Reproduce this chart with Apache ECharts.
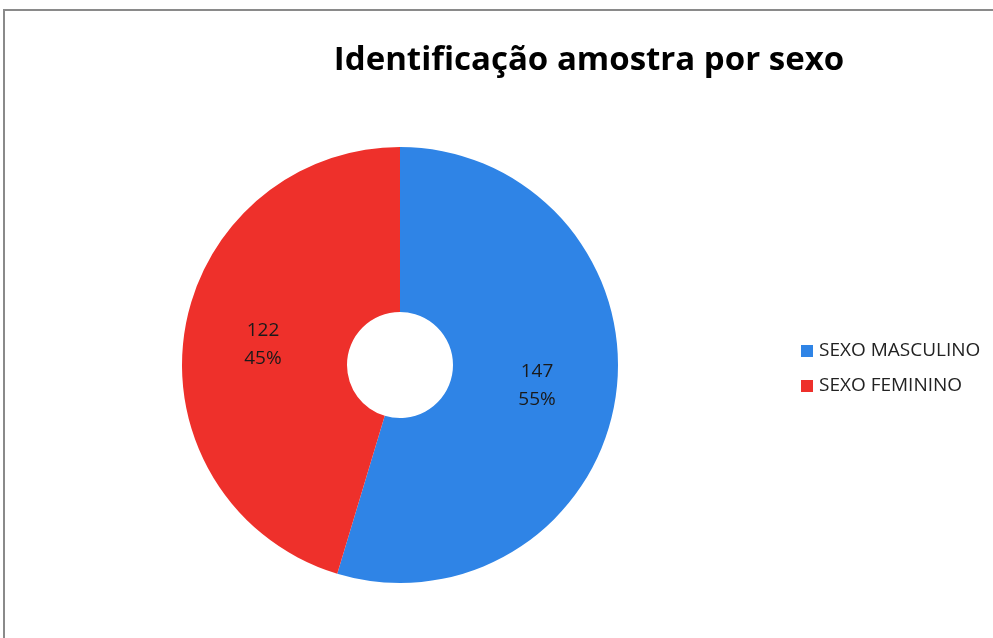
<!DOCTYPE html>
<html>
<head>
<meta charset="utf-8">
<script src="https://cdn.jsdelivr.net/npm/echarts@6/dist/echarts.min.js"></script>
<style>
  html, body { margin: 0; padding: 0; background: #fff; }
  #chart { width: 993px; height: 638px; }
</style>
</head>
<body>
<div id="chart"></div>
<script>
// dados do gráfico
var categorias = ['SEXO MASCULINO', 'SEXO FEMININO'];
var valores = [147, 122];
var cores = ['#2f84e6', '#ee302b'];

var chart = echarts.init(document.getElementById('chart'));

chart.setOption({
  backgroundColor: '#fff',
  color: cores,
  title: {
    text: 'Identificação amostra por sexo',
    left: 589,
    top: 44,
    padding: 0,
    textAlign: 'center',
    textStyle: { fontFamily: 'Open Sans', fontSize: 33, fontWeight: 'bold', color: '#000' }
  },
  legend: {
    orient: 'vertical',
    left: 801,
    top: 340,
    padding: 0,
    itemWidth: 12,
    itemHeight: 12,
    itemGap: 13,
    icon: 'rect',
    data: categorias,
    textStyle: { fontFamily: 'Open Sans', fontSize: 19, color: '#222', lineHeight: 22, padding: [0, 0, 0, 1] }
  },
  graphic: [{
    type: 'rect',
    shape: { x: 4, y: 10, width: 1100, height: 800 },
    style: { fill: 'none', stroke: '#8a8a8a', lineWidth: 2 },
    silent: true
  }],
  series: [{
    type: 'pie',
    center: [400, 365],
    radius: [53, 218],
    startAngle: 90,
    clockwise: true,
    avoidLabelOverlap: false,
    itemStyle: { borderColor: '#fff', borderWidth: 0 },
    label: {
      position: 'inner',
      formatter: function (p) { return p.value + '\n' + Math.round(p.percent) + '%'; },
      fontFamily: 'Open Sans',
      fontSize: 19,
      lineHeight: 28,
      color: '#1a1a1a'
    },
    labelLine: { show: false },
    emphasis: { disabled: true },
    data: categorias.map(function (c, i) { return { name: c, value: valores[i] }; })
  }]
});
</script>
</body>
</html>
